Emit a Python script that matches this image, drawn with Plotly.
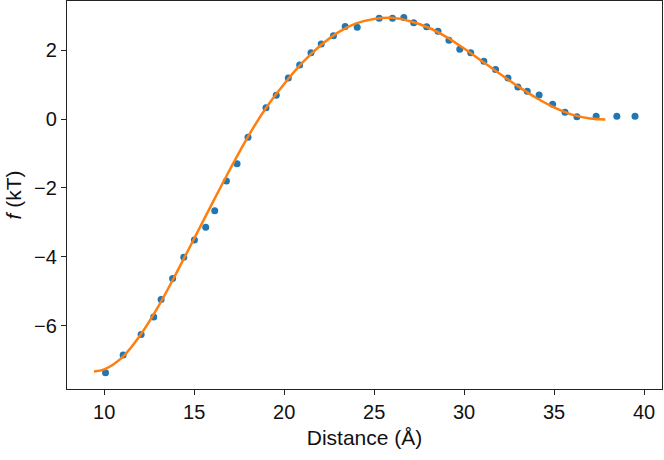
import plotly.graph_objects as go

# Data points (distance in Å, f in kT)
dist = [10.07, 11.05, 12.05, 12.75, 13.16, 13.8, 14.42, 15.01, 15.64, 16.14, 16.79,
        17.38, 17.99, 18.99, 19.56, 20.23, 20.86, 21.49, 22.06, 22.74, 23.39, 24.06,
        25.28, 26.02, 26.65, 27.2, 27.92, 28.55, 29.16, 29.76, 30.37, 31.1, 31.75,
        32.44, 32.99, 33.51, 34.17, 34.92, 35.61, 36.27, 37.34, 38.49, 39.5]
f_vals = [-7.37, -6.85, -6.26, -5.75, -5.24, -4.63, -4.01, -3.51, -3.14, -2.66, -1.80,
          -1.30, -0.53, 0.33, 0.69, 1.19, 1.57, 1.93, 2.18, 2.42, 2.69, 2.67,
          2.93, 2.93, 2.95, 2.80, 2.68, 2.55, 2.29, 2.03, 1.93, 1.68, 1.44,
          1.19, 0.93, 0.81, 0.70, 0.43, 0.20, 0.07, 0.08, 0.08, 0.08]

# Fitted curve
fit_x = [9.43, 10, 11, 12, 13, 14, 15, 16, 17, 18, 19, 20, 21, 22, 23, 24, 25, 26,
         27, 28, 29, 30, 31, 32, 33, 34, 35, 36, 37, 37.85]
fit_y = [-7.33, -7.27, -6.92, -6.28, -5.45, -4.48, -3.47, -2.45, -1.45, -0.5, 0.33, 1.02,
         1.63, 2.13, 2.52, 2.78, 2.91, 2.94, 2.84, 2.66, 2.39, 2.05, 1.68, 1.31, 0.95,
         0.62, 0.34, 0.13, 0.02, -0.01]

x_ticks = [10, 15, 20, 25, 30, 35, 40]
y_ticks = [-6, -4, -2, 0, 2]

FONT = "Liberation Sans, Arial, sans-serif"

fig = go.Figure()
fig.add_trace(go.Scatter(x=dist, y=f_vals, mode="markers",
                         marker=dict(color="#1f77b4", size=7, line=dict(width=0)),
                         showlegend=False))
fig.add_trace(go.Scatter(x=fit_x, y=fit_y, mode="lines", line_shape="spline",
                         line=dict(color="#ff7f0e", width=2.5),
                         showlegend=False))

axis_common = dict(showgrid=False, zeroline=False, showline=True, linecolor="#222",
                   linewidth=1.3, mirror=True, ticks="outside", ticklen=5,
                   tickcolor="#222", tickwidth=1, automargin=False,
                   tickfont=dict(family=FONT, size=20, color="#111"))

fig.update_layout(
    width=664, height=460,
    margin=dict(l=67, r=2, t=1, b=71),
    plot_bgcolor="white", paper_bgcolor="white",
    xaxis=dict(range=[7.93, 41.0], tickvals=x_ticks,
               title=dict(text="Distance (Å)", standoff=8,
                          font=dict(family=FONT, size=21, color="#111")),
               **axis_common),
    yaxis=dict(range=[-7.84, 3.43], tickvals=y_ticks,
               ticktext=["\u22126", "\u22124", "\u22122", "0", "2"],
               title=dict(text="<i>f</i> (kT)", standoff=6,
                          font=dict(family=FONT, size=21, color="#111")),
               **axis_common),
)

fig.write_html("out.html", config={"displayModeBar": False},
               post_script="document.body.style.margin='0';document.body.style.padding='0';")
